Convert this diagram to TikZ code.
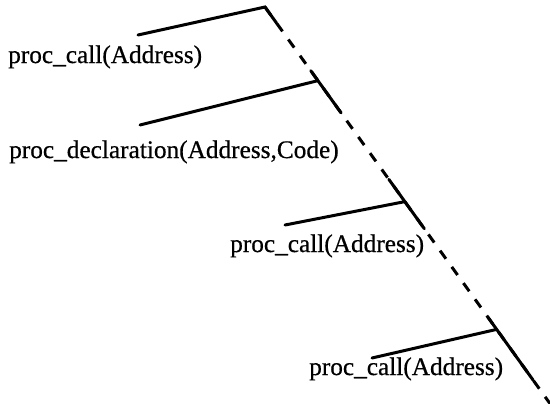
\documentclass[tikz,border=0pt]{standalone}
\usepackage{fontspec}
\setmainfont[FakeBold=0.6]{Liberation Serif}
\usetikzlibrary{calc}
\begin{document}
\begin{tikzpicture}[x=1bp,y=-1bp,
  lbl/.style={anchor=base west, inner sep=0pt, font=\fontsize{25.3bp}{30bp}\selectfont},
  branchline/.style={line width=3bp, line cap=round, line join=miter},
  spine/.style={line width=3bp, dash pattern=on 10bp off 10bp},
  spinesolid/.style={line width=3bp, line cap=round}]
\useasboundingbox (0,0) rectangle (550,403);
% labels
\node[lbl] (l1) at (8,63) {proc\_call(Address)};
\node[lbl] (l2) at (9,158) {proc\_declaration(Address,Code)};
\node[lbl] (l3) at (230,252) {proc\_call(Address)};
\node[lbl] (l4) at (309,375) {proc\_call(Address)};
% spine
\coordinate (A) at (265,7);
\coordinate (E) at (551,405);
\coordinate (J1) at ($(A)!0.185!(E)$);
\coordinate (J2) at ($(A)!0.489!(E)$);
\coordinate (J3) at ($(A)!0.81!(E)$);
\coordinate (L0) at (138,35);
\coordinate (L1) at (140,125);
\coordinate (L2) at (285,225);
\coordinate (L3) at (372,358);
\draw[spine] (A) -- (E);
\draw[branchline] (L0) -- (A) -- ($(A)!0.04!(E)$);
\draw[spinesolid] ($(A)!0.16!(E)$) -- ($(A)!0.266!(E)$);
\draw[spinesolid] ($(A)!0.433!(E)$) -- ($(A)!0.557!(E)$);
\draw[spinesolid] ($(A)!0.78!(E)$) -- ($(A)!0.937!(E)$);
\draw[branchline] (L1) -- (J1);
\draw[branchline] (L2) -- (J2);
\draw[branchline] (L3) -- (J3);
\end{tikzpicture}
\end{document}
